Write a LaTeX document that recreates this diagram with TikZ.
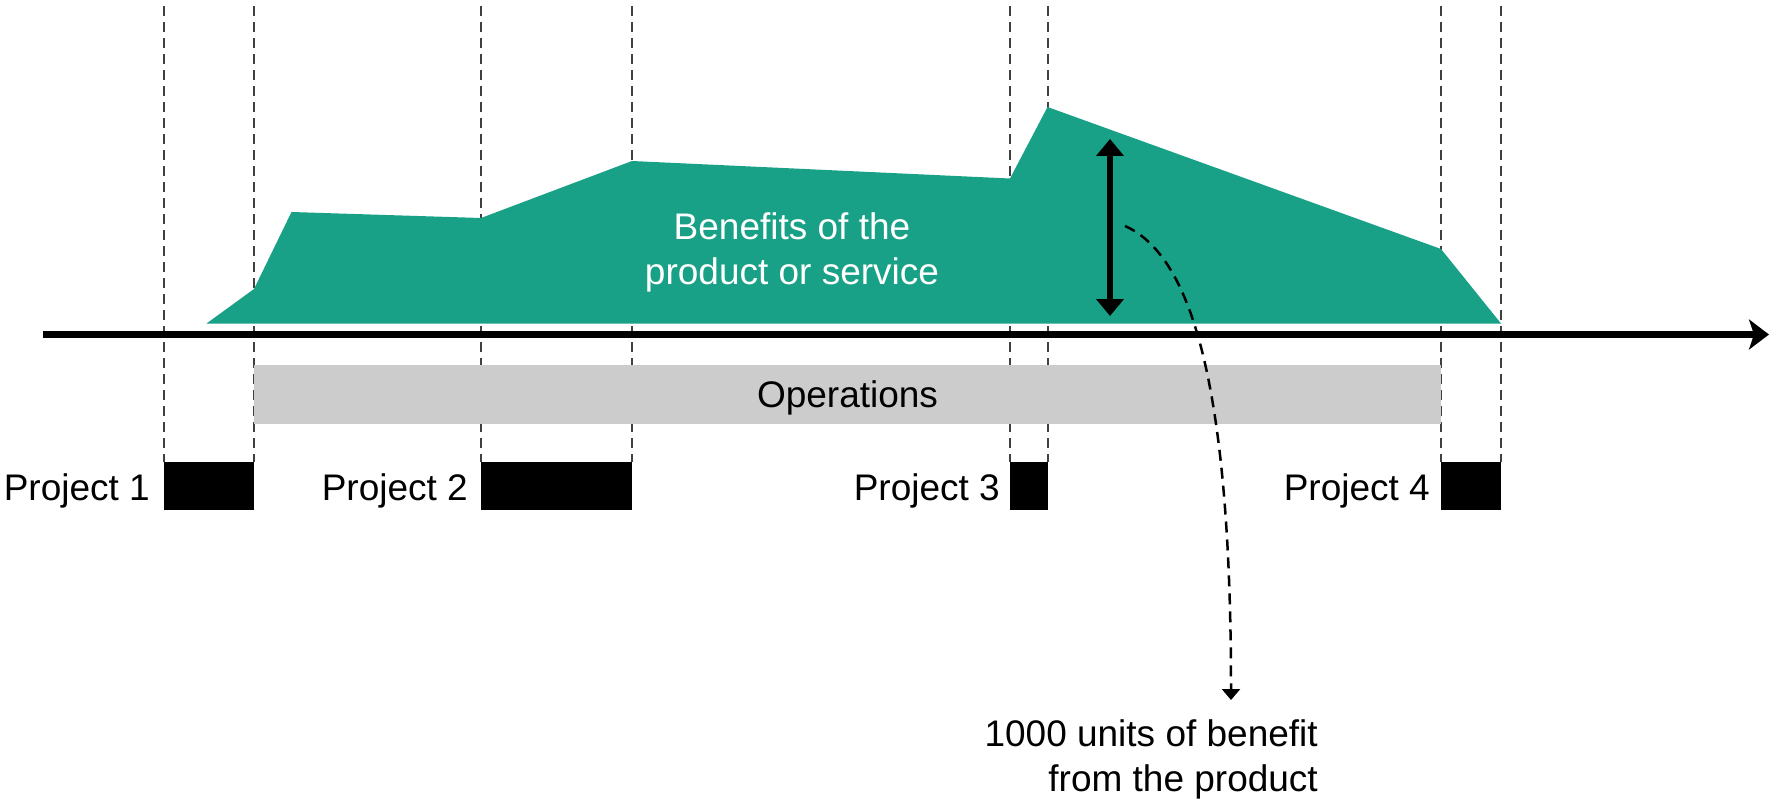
\documentclass[tikz,border=0pt]{standalone}
\usepackage{fontspec}
\setmainfont{Liberation Sans}
\usetikzlibrary{arrows.meta}
\definecolor{benefit}{HTML}{19A187}
\definecolor{opsgray}{HTML}{CCCCCC}
\definecolor{guide}{HTML}{404040}
\begin{document}
\begin{tikzpicture}[x=1pt,y=-1pt,
  bigfont/.style={font=\fontsize{37}{45}\selectfont},
  guideline/.style={draw=guide, line width=1.2pt, dash pattern=on 10pt off 6pt},
  projbox/.style={fill=black, draw=none, minimum height=48pt, inner sep=0pt, anchor=north west, outer sep=0pt},
  projlabel/.style={bigfont, anchor=base east, inner sep=0pt},
  thickarrow/.style={line width=6.5pt},
  notecurve/.style={line width=2.5pt, dash pattern=on 11pt off 7pt, -{Triangle[length=11pt,width=18pt]}}]
\useasboundingbox (0,0) rectangle (1779,805);
\coordinate (top) at (0,6);
% project boxes
\node[projbox, minimum width=90pt]  (box1) at (164,462) {};
\node[projbox, minimum width=151pt] (box2) at (481,462) {};
\node[projbox, minimum width=38pt]  (box3) at (1010,462) {};
\node[projbox, minimum width=60pt]  (box4) at (1441,462) {};
% guide lines
\foreach \b in {box1,box2,box3,box4}{
  \draw[guideline] (\b.north west |- top) -- (\b.north west);
  \draw[guideline] (\b.north east |- top) -- (\b.north east);
}
% benefits area
\fill[benefit] (206.5,323.5) -- (254,289) -- (291.5,212) -- (481,218) -- (632,161)
  -- (1010,178.5) -- (1047.5,107) -- (1441,249) -- (1501,323.5) -- cycle;
\node[bigfont, text=white, align=center, anchor=north, inner sep=0pt] (benefits) at (792,212)
  {Benefits of the\\product or service};
% operations bar
\node[bigfont, fill=opsgray, minimum width=1187pt, minimum height=59pt, inner sep=0pt,
  text height=26pt, text depth=0pt] (ops) at (847.5,394) {Operations};
% time axis
\coordinate (axstart) at (43,334.5);
\coordinate (axend) at (1769,334.5);
\draw[thickarrow, -{Stealth[length=20pt,width=30pt,inset=5pt]}] (axstart) -- (axend);
% benefit height arrow
\coordinate (hatop) at (1110,139);
\coordinate (habot) at (1110,316);
\draw[thickarrow, {Triangle[length=17pt,width=27pt]}-{Triangle[length=17pt,width=27pt]}] (hatop) -- (habot);
% project labels
\node[projlabel] (lab1) at ([shift={(-14,14)}]box1.west) {Project 1};
\node[projlabel] (lab2) at ([shift={(-13,14)}]box2.west) {Project 2};
\node[projlabel] (lab3) at ([shift={(-10,14)}]box3.west) {Project 3};
\node[projlabel] (lab4) at ([shift={(-11,14)}]box4.west) {Project 4};
% note
\coordinate (cstart) at (1125,226);
\coordinate (ctip) at (1231,700);
\draw[notecurve] (cstart) .. controls (1190,255) and (1231,380) .. (ctip);
\node[bigfont, align=right, anchor=north east, inner sep=0pt] (note) at (1318,719)
  {1000 units of benefit\\from the product};
\end{tikzpicture}
\end{document}
